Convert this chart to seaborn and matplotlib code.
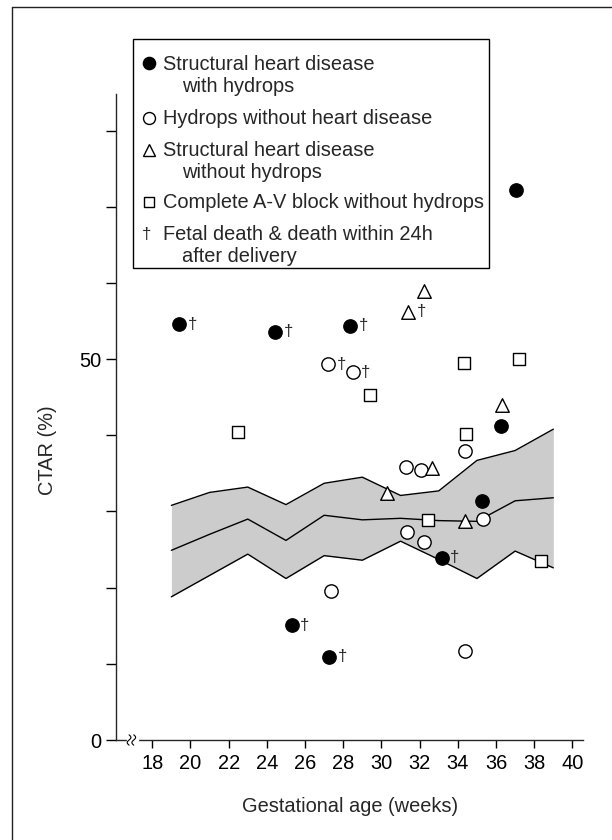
import matplotlib
matplotlib.use("Agg")
import matplotlib.pyplot as plt
from matplotlib.lines import Line2D
from matplotlib.patches import Rectangle
import seaborn as sns
import pandas as pd
import numpy as np

# ---- data ----
weeks = [19, 21, 23, 25, 27, 29, 31, 33, 35, 37, 39]
band_upper = [30.8, 32.5, 33.2, 30.9, 33.7, 34.5, 32.1, 32.7, 36.7, 38.0, 40.8]
band_mid = [24.9, 27.0, 29.0, 26.2, 29.5, 28.9, 29.1, 28.8, 28.7, 31.4, 31.8]
band_lower = [18.8, 21.6, 24.4, 21.2, 24.2, 23.6, 26.1, 23.7, 21.2, 24.8, 22.6]

heart_hyd_x = [19.4, 24.45, 28.35, 37.05, 36.25, 35.25, 33.15, 25.3, 27.25]
heart_hyd_y = [54.6, 53.6, 54.4, 72.2, 41.2, 31.4, 23.9, 15.05, 10.95]
heart_hyd_death = [1, 1, 1, 0, 0, 0, 1, 1, 1]

hyd_x = [27.2, 28.5, 34.4, 31.3, 32.05, 31.35, 32.25, 35.3, 27.35, 34.4]
hyd_y = [49.35, 48.25, 38.0, 35.9, 35.4, 27.3, 25.95, 29.0, 19.5, 11.65]
hyd_death = [1, 1, 0, 0, 0, 0, 0, 0, 0, 0]

heart_x = [32.25, 31.4, 36.3, 32.65, 30.3, 34.4]
heart_y = [58.9, 56.2, 44.0, 35.65, 32.4, 28.75]
heart_death = [0, 1, 0, 0, 0, 0]

avb_x = [22.5, 29.4, 34.3, 37.2, 34.45, 32.45, 38.35]
avb_y = [40.4, 45.3, 49.45, 50.05, 40.15, 28.85, 23.5]
avb_death = [0, 0, 0, 0, 0, 0, 0]

legend_labels = [
    ["Structural heart disease", "with hydrops"],
    ["Hydrops without heart disease"],
    ["Structural heart disease", "without hydrops"],
    ["Complete A-V block without hydrops"],
    ["Fetal death & death within 24h", "after delivery"],
]
x_ticks = list(range(18, 41, 2))
y_ticks = list(range(0, 81, 10))
y_ticklabels = ["0", "", "", "", "", "50", "", "", ""]

FS = 14.4

# ---- styling ----
sns.set_theme(style="ticks")
plt.rcParams["font.family"] = ["Liberation Sans", "DejaVu Sans"]
plt.rcParams["axes.linewidth"] = 1.0

W, H = 612, 840
fig = plt.figure(figsize=(W / 100, H / 100), dpi=100)
ax = fig.add_axes([116 / W, 100 / H, 467.3 / W, 646 / H])


def fx(px):
    return px / W


def fy(py):
    return 1 - py / H


band = pd.DataFrame({"week": weeks, "upper": band_upper,
                     "mid": band_mid, "lower": band_lower})
ax.fill_between(band["week"], band["lower"], band["upper"],
                color="#cccccc", linewidth=0, zorder=1)
for col in ["upper", "mid", "lower"]:
    sns.lineplot(data=band, x="week", y=col, ax=ax, color="black",
                 linewidth=1.0, zorder=2)

groups = [
    (heart_hyd_x, heart_hyd_y, heart_hyd_death, "o", "black", 92),
    (hyd_x, hyd_y, hyd_death, "o", "white", 92),
    (heart_x, heart_y, heart_death, "^", "white", 95),
    (avb_x, avb_y, avb_death, "s", "white", 72),
]
for gx, gy, gd, mk, fc, s in groups:
    df = pd.DataFrame({"x": gx, "y": gy, "d": gd})
    sns.scatterplot(data=df, x="x", y="y", ax=ax, marker=mk, s=s,
                    facecolor=fc, edgecolor="black", linewidth=1.0,
                    zorder=4, legend=False)
    for _, r in df[df["d"] == 1].iterrows():
        ax.annotate("\u2020", (r["x"], r["y"]), xytext=(9.5, 0),
                    textcoords="offset points", ha="center", va="center",
                    fontsize=12, zorder=5)

ax.set_xlim(16.1, 40.57)
ax.set_ylim(0, 84.8)
ax.set_xticks(x_ticks)
ax.set_yticks(y_ticks)
ax.set_yticklabels(y_ticklabels)
ax.tick_params(axis="both", direction="out", labelsize=FS, width=1.0,
               colors="black")
ax.tick_params(axis="y", length=7.2, pad=3)
ax.tick_params(axis="x", length=5.8, pad=4)
sns.despine(ax=ax)
ax.set_xlabel("Gestational age (weeks)", fontsize=FS, labelpad=17.5)
ax.set_ylabel("CTAR (%)", fontsize=FS)
ax.yaxis.set_label_coords(-0.127, 0.449)

# axis break mark
ax.plot([0.026, 0.044], [0, 0], transform=ax.transAxes, color="white",
        lw=2.5, clip_on=False, zorder=6)
tt = np.linspace(-1, 1, 20)
for dx in (0.028, 0.038):
    xs = dx + 0.004 * np.sin(tt * np.pi)
    ys = tt * 0.008
    ax.plot(xs, ys, transform=ax.transAxes, color="black", lw=0.8,
            clip_on=False, zorder=7)

# ---- legend box drawn by hand ----
fig.add_artist(Rectangle((fx(132.7), fy(267.5)), fx(489) - fx(132.7),
                         fy(39) - fy(267.5), transform=fig.transFigure,
                         facecolor="white", edgecolor="black", lw=1.0,
                         zorder=10))
marker_specs = [
    dict(marker="o", mfc="black", ms=8.8),
    dict(marker="o", mfc="white", ms=8.6),
    dict(marker="^", mfc="white", ms=9.0),
    dict(marker="s", mfc="white", ms=7.3),
    None,
]
marker_y = [63.3, 117.7, 149.5, 201.7, 235.0]
baselines = [[70, 91.5], [124.3], [155.7, 177.7], [208.3], [240.5, 261.5]]
for spec, my, labs, bls in zip(marker_specs, marker_y, legend_labels, baselines):
    if spec is None:
        fig.text(fx(146.7), fy(my), "\u2020", ha="center", va="center",
                 fontsize=12, zorder=11)
    else:
        fig.add_artist(Line2D([fx(149.3)], [fy(my)], ls="", mec="black",
                              mew=1.0, transform=fig.transFigure, zorder=11,
                              **spec))
    for i, (lab, bl) in enumerate(zip(labs, bls)):
        fig.text(fx(163 if i == 0 else 182.5), fy(bl), lab, ha="left",
                 va="baseline", fontsize=FS, zorder=11)

# partial outer frame (top and left)
fig.add_artist(Line2D([fx(12.3), 1.0], [fy(7.3), fy(7.3)],
                      transform=fig.transFigure, color="#222222", lw=1.0))
fig.add_artist(Line2D([fx(12.3), fx(12.3)], [0.0, fy(7.3)],
                      transform=fig.transFigure, color="#222222", lw=1.0))

fig.savefig("out.png", dpi=100)
